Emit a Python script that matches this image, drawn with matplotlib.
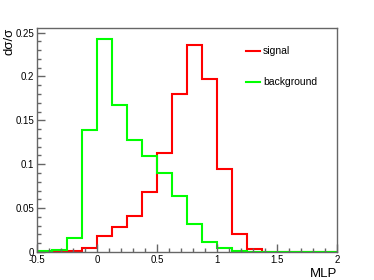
import numpy as np
import matplotlib.pyplot as plt
from matplotlib.ticker import MultipleLocator

# 20 bins of width 0.125 between -0.5 and 2
edges = np.linspace(-0.5, 2.0, 21)

signal = [0.0, 0.001, 0.001, 0.005, 0.018, 0.028, 0.041, 0.0685, 0.113, 0.180,
          0.236, 0.197, 0.095, 0.020, 0.003, 0.0, 0.0, 0.0, 0.0, 0.0]
background = [0.001, 0.002, 0.0156, 0.139, 0.243, 0.168, 0.128, 0.109, 0.090, 0.064,
              0.0315, 0.0114, 0.004, 0.001, 0.0, 0.0, 0.0, 0.0, 0.0, 0.0]

plt.rcParams['font.family'] = ['Liberation Sans', 'DejaVu Sans']

fig = plt.figure(figsize=(3.74, 2.8), dpi=100)
ax = fig.add_axes([37/374, 28/280, 300/374, 224/280])

ax.stairs(signal, edges, color='#ff0000', lw=1.5, label='signal')
ax.stairs(background, edges, color='#00ff00', lw=1.5, label='background')

ax.set_xlim(-0.5, 2.0)
ax.set_ylim(0, 1.05 * max(background))

ax.xaxis.set_major_locator(MultipleLocator(0.5))
ax.xaxis.set_minor_locator(MultipleLocator(0.1))
ax.yaxis.set_major_locator(MultipleLocator(0.05))
ax.yaxis.set_minor_locator(MultipleLocator(0.01))
ax.set_xticks([-0.5, 0, 0.5, 1, 1.5, 2], ['-0.5', '0', '0.5', '1', '1.5', '2'])
ax.set_yticks([0, 0.05, 0.1, 0.15, 0.2, 0.25], ['0', '0.05', '0.1', '0.15', '0.2', '0.25'])

ax.tick_params(which='both', direction='in', color='#666666', labelsize=7,
               top=False, right=False)
ax.tick_params(which='major', length=6, width=1, pad=2)
ax.tick_params(which='minor', length=3, width=1)
for s in ax.spines.values():
    s.set_color('#666666')
    s.set_linewidth(1)

ax.set_xlabel('MLP', fontsize=9.5, loc='right', labelpad=2)
ax.set_ylabel('d\u03c3/\u03c3', fontsize=9.5, loc='top', labelpad=0)

ax.legend(loc='upper right', bbox_to_anchor=(0.965, 0.96), frameon=False, fontsize=7.5,
          handlelength=1.4, handletextpad=0.25, labelspacing=2.0)

fig.savefig('out.png', dpi=100)
